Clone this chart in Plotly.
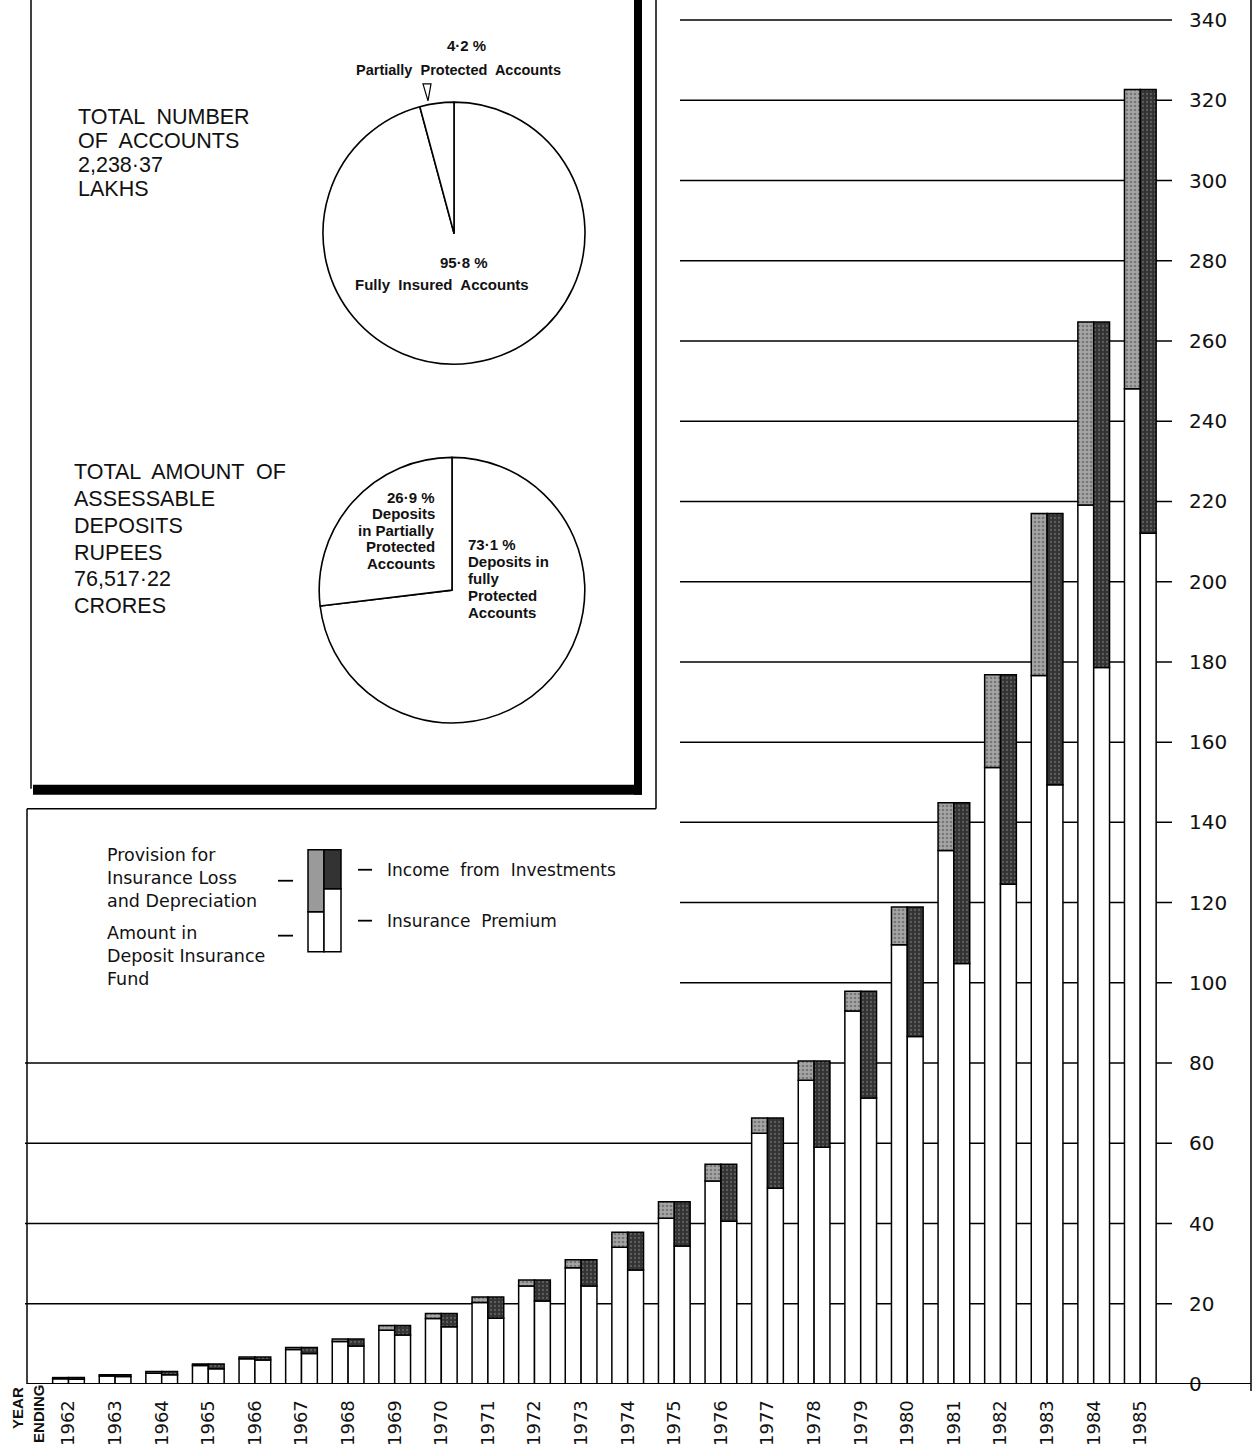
import plotly.graph_objects as go

# ---------------- data (Rs. crores) ----------------
years = list(range(1962, 1986))
fund = [1.3, 2.0, 2.7, 4.6, 6.3, 8.6, 10.6, 13.4, 16.3, 20.3, 24.4, 29.0, 34.1, 41.3,
        50.6, 62.5, 75.7, 93.0, 109.5, 133.0, 153.7, 176.6, 219.1, 248.1]
provision = [0.3, 0.3, 0.4, 0.4, 0.4, 0.5, 0.6, 1.2, 1.3, 1.4, 1.5, 2.0, 3.7, 4.1,
             4.2, 3.8, 4.8, 4.9, 9.4, 11.9, 23.1, 40.4, 45.6, 74.6]
premium = [1.2, 1.9, 2.3, 3.8, 6.0, 7.6, 9.5, 12.2, 14.3, 16.4, 20.7, 24.4, 28.4, 34.4,
           40.6, 48.8, 59.0, 71.3, 86.6, 104.8, 124.6, 149.4, 178.6, 212.1]
income = [0.4, 0.4, 0.8, 1.2, 0.7, 1.5, 1.7, 2.4, 3.3, 5.3, 5.2, 6.6, 9.4, 11.0,
          14.2, 17.5, 21.5, 26.6, 32.3, 40.1, 52.2, 67.6, 86.1, 110.6]
y_ticks = list(range(0, 341, 20))
year_labels = [str(y) for y in years]

accounts_labels = ["Fully Insured Accounts", "Partially Protected Accounts"]
accounts_share = [95.8, 4.2]
deposits_labels = ["Deposits in fully Protected Accounts", "Deposits in Partially Protected Accounts"]
deposits_share = [73.1, 26.9]

# ---------------- geometry helpers (pixels -> paper) ----------------
WIDTH, HEIGHT = 1258, 1454
L, R, T, B = 25, 1175, 8, 1386
PW, PH = R - L, B - T


def px(x):
    return (x - L) / PW


def py(y):
    return (B - y) / PH


BW = 0.34
line = dict(color="black", width=1.5)

fig = go.Figure()
fig.add_trace(go.Bar(x=years, y=fund, base=0, offset=-BW, width=BW,
                     marker=dict(color="white", line=line), name="Amount in Deposit Insurance Fund"))
fig.add_trace(go.Bar(x=years, y=provision, base=fund, offset=-BW, width=BW,
                     marker=dict(color="#a5a5a5", line=line,
                                 pattern=dict(shape=".", bgcolor="#a5a5a5", fgcolor="#4a4a4a",
                                              size=4, solidity=0.35)),
                     name="Provision for Insurance Loss and Depreciation"))
fig.add_trace(go.Bar(x=years, y=premium, base=0, offset=0, width=BW,
                     marker=dict(color="white", line=line), name="Insurance Premium"))
fig.add_trace(go.Bar(x=years, y=income, base=premium, offset=0, width=BW,
                     marker=dict(color="#333333", line=line,
                                 pattern=dict(shape=".", bgcolor="#333333", fgcolor="#8a8a8a",
                                              size=4, solidity=0.25)),
                     name="Income from Investments"))

# pies
fig.add_trace(go.Pie(labels=accounts_labels, values=accounts_share, sort=False,
                     direction="clockwise", rotation=0, textinfo="none",
                     marker=dict(colors=["white", "white"], line=dict(color="black", width=1.6)),
                     domain=dict(x=[px(323), px(585)], y=[py(367), py(100)]),
                     hoverinfo="skip", showlegend=False))
fig.add_trace(go.Pie(labels=deposits_labels, values=deposits_share, sort=False,
                     direction="clockwise", rotation=0, textinfo="none",
                     marker=dict(colors=["white", "white"], line=dict(color="black", width=1.6)),
                     domain=dict(x=[px(319), px(585)], y=[py(724), py(458)]),
                     hoverinfo="skip", showlegend=False))

shapes = []
# gridlines
for v in y_ticks[1:]:
    x0 = 0 if v <= 80 else px(680)
    shapes.append(dict(type="line", xref="paper", yref="y", x0=x0, x1=px(1172), y0=v, y1=v,
                       line=dict(color="black", width=1.5), layer="below"))
# baseline
shapes.append(dict(type="line", xref="paper", yref="y", x0=px(27), x1=px(1251), y0=0, y1=0,
                   line=dict(color="black", width=2)))


def pline(x0, y0, x1, y1, w=1.5):
    shapes.append(dict(type="line", xref="paper", yref="paper", x0=px(x0), y0=py(y0),
                       x1=px(x1), y1=py(y1), line=dict(color="black", width=w)))


def prect(x0, y0, x1, y1, fill, w=0, lc="black"):
    shapes.append(dict(type="rect", xref="paper", yref="paper", x0=px(x0), y0=py(y0),
                       x1=px(x1), y1=py(y1), fillcolor=fill,
                       line=dict(color=lc, width=w)))


# frames
pline(1251, 0, 1251, 1393, 1.5)
pline(27, 810, 27, 1386, 1.5)
pline(27, 810, 656, 810, 1.5)
pline(656, 0, 656, 810, 1.5)
pline(31, 0, 31, 790, 1.5)
prect(634, 0, 642, 796, "black")
prect(33, 786, 642, 796, "black")
# little marker above the 4.2% wedge
shapes.append(dict(type="path", xref="paper", yref="paper",
                   path=f"M {px(423)} {py(84)} L {px(431)} {py(84)} L {px(428)} {py(101)} Z",
                   line=dict(color="black", width=1.2), fillcolor="white"))

# legend key
prect(308, 913, 324, 953, "white", 1.5)
prect(308, 851, 324, 913, "#9a9a9a", 1.5)
prect(324, 890, 341, 953, "white", 1.5)
prect(324, 851, 341, 890, "#333333", 1.5)
pline(278, 882, 293, 882, 1.8)
pline(278, 937, 293, 937, 1.8)
pline(358, 871, 372, 871, 1.8)
pline(358, 922, 372, 922, 1.8)

annotations = []


def ann(text, x, y, size, xanchor="center", family="Liberation Sans", bold=False, angle=0):
    if bold:
        text = f"<b>{text}</b>"
    annotations.append(dict(text=text, x=px(x), y=py(y), xref="paper", yref="paper",
                            xanchor=xanchor, yanchor="middle", showarrow=False,
                            textangle=angle,
                            font=dict(family=family, size=size, color="#111111")))


# panel texts
for i, t in enumerate(["TOTAL  NUMBER", "OF  ACCOUNTS", "2,238·37", "LAKHS"]):
    ann(t, 76, 117 + 24 * i, 21.5, "left")
for i, t in enumerate(["TOTAL  AMOUNT  OF", "ASSESSABLE", "DEPOSITS", "RUPEES", "76,517·22", "CRORES"]):
    ann(t, 72, 473 + 26.8 * i, 21.5, "left")

ann("4·2 %", 466, 46, 15, bold=True)
ann("Partially  Protected  Accounts", 458, 70, 14.5, bold=True)
ann("95·8 %", 464, 263, 15, bold=True)
ann("Fully  Insured  Accounts", 442, 285, 15, bold=True)
for i, t in enumerate(["26·9 %", "Deposits", "in Partially", "Protected", "Accounts"]):
    ann(t, 437, 498 + 16.5 * i, 15, "right", bold=True)
for i, t in enumerate(["73·1 %", "Deposits in", "fully", "Protected", "Accounts"]):
    ann(t, 466, 545 + 17 * i, 15, "left", bold=True)

# legend texts
for i, t in enumerate(["Provision for", "Insurance Loss", "and Depreciation"]):
    ann(t, 105, 856 + 23 * i, 17.5, "left", family="DejaVu Sans")
for i, t in enumerate(["Amount in", "Deposit Insurance", "Fund"]):
    ann(t, 105, 934 + 23 * i, 17.5, "left", family="DejaVu Sans")
ann("Income  from  Investments", 385, 871, 17, "left", family="DejaVu Sans")
ann("Insurance  Premium", 385, 922, 17, "left", family="DejaVu Sans")

# year ending label
ann("YEAR", 18, 1410, 15, family="Liberation Sans", bold=True, angle=-90)
ann("ENDING", 39, 1416, 15, family="Liberation Sans", bold=True, angle=-90)

xmin = 1962 - (68.5 - L) / 46.6
xmax = xmin + PW / 46.6

fig.update_layout(
    width=WIDTH, height=HEIGHT,
    margin=dict(l=L, r=WIDTH - R, t=T, b=HEIGHT - B),
    paper_bgcolor="white", plot_bgcolor="white",
    barmode="overlay", showlegend=False,
    shapes=shapes, annotations=annotations,
    xaxis=dict(range=[xmin, xmax], tickvals=years, ticktext=year_labels, tickangle=-90,
               showgrid=False, zeroline=False, showline=False,
               ticks="outside", ticklen=8, tickcolor="rgba(0,0,0,0)",
               tickfont=dict(family="DejaVu Sans", size=18, color="#111111"), fixedrange=True),
    yaxis=dict(range=[0, 343], side="right", tickvals=y_ticks,
               showgrid=False, zeroline=False, showline=False,
               ticks="outside", ticklen=9, tickcolor="rgba(0,0,0,0)",
               tickfont=dict(family="DejaVu Sans", size=20, color="#111111"), fixedrange=True),
)

fig.write_html("out.html", config={"displayModeBar": False},
               post_script="document.body.style.margin='0';document.body.style.overflow='hidden';")
